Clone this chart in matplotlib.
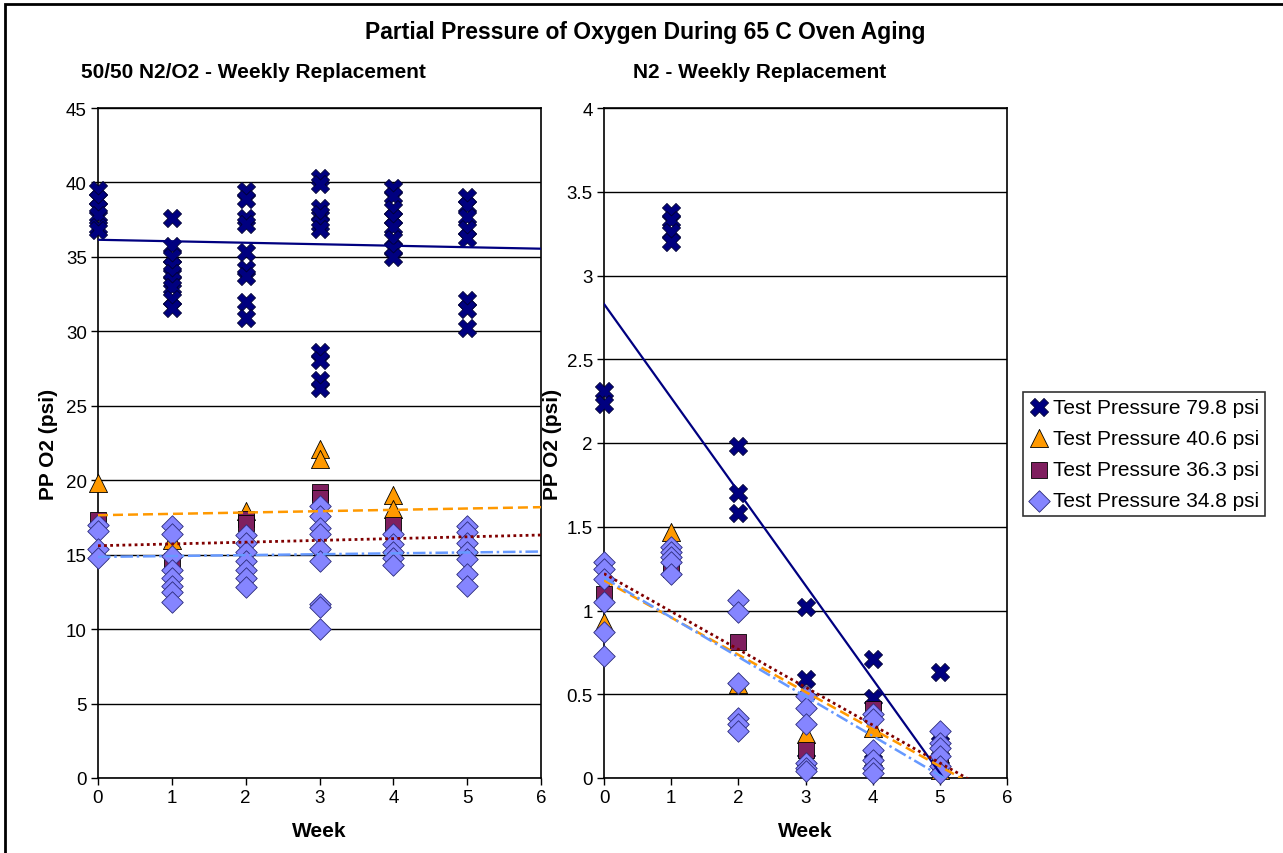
import matplotlib
matplotlib.use("Agg")
import matplotlib.pyplot as plt
from matplotlib.patches import Rectangle
import numpy as np

plt.rcParams['font.family'] = ['Liberation Sans', 'DejaVu Sans']

weeks = [0, 1, 2, 3, 4, 5]
series_labels = ["Test Pressure 79.8 psi", "Test Pressure 40.6 psi",
                 "Test Pressure 36.3 psi", "Test Pressure 34.8 psi"]

# Left panel: 50/50 N2/O2 - values per week (weeks 0..5)
left_798 = [[39.5, 38.9, 38.3, 37.8, 37.0, 36.8],
            [37.6, 35.7, 35.0, 34.4, 33.9, 33.4, 33.0, 32.2, 31.6],
            [39.4, 38.9, 37.6, 37.2, 35.3, 34.2, 33.7, 32.0, 30.9],
            [40.3, 39.9, 38.3, 37.9, 37.2, 36.9, 28.6, 28.1, 26.7, 26.2],
            [39.6, 39.1, 38.2, 37.6, 37.0, 36.2, 35.5, 35.0],
            [39.0, 38.4, 37.7, 36.9, 36.3, 32.1, 31.5, 30.2]]
left_406 = [[19.8], [16.0], [17.9], [22.1, 21.4], [19.0, 18.1], []]
left_363 = [[17.3], [14.6], [17.4, 17.1], [19.2, 18.8], [17.0], []]
left_348 = [[17.0, 16.6, 15.4, 14.8],
            [16.9, 16.4, 14.9, 14.0, 13.4, 12.9, 12.5, 11.8],
            [16.3, 15.8, 15.2, 14.6, 14.0, 13.4, 12.8],
            [18.3, 17.6, 16.8, 16.4, 15.4, 14.6, 11.7, 11.5, 10.0],
            [16.4, 15.7, 15.2, 14.8, 14.3],
            [16.9, 16.5, 15.8, 15.2, 14.7, 13.7, 12.9]]
# linear trendlines (intercept, slope)
left_trend_intercept = [36.15, 17.65, 15.6, 14.85]
left_trend_slope = [-0.10, 0.09, 0.12, 0.06]

# Right panel: N2
right_798 = [[2.31, 2.23], [3.38, 3.33, 3.26, 3.20], [1.98, 1.70, 1.58],
             [1.02, 0.59, 0.11], [0.71, 0.48, 0.10], [0.63, 0.21, 0.12]]
right_406 = [[0.93], [1.47], [0.56], [0.26], [0.30], [0.05]]
right_363 = [[1.10], [1.25], [0.81], [0.17], [0.41], [0.10]]
right_348 = [[1.29, 1.25, 1.19, 1.05, 0.87, 0.73],
             [1.38, 1.35, 1.32, 1.29, 1.22],
             [1.06, 0.99, 0.57, 0.36, 0.32, 0.28],
             [0.49, 0.42, 0.32, 0.09, 0.06, 0.04],
             [0.38, 0.35, 0.17, 0.11, 0.06, 0.03],
             [0.28, 0.21, 0.18, 0.13, 0.07, 0.03]]
right_trend_intercept = [2.83, 1.18, 1.22, 1.195]
right_trend_slope = [-0.56, -0.222, -0.226, -0.236]

left_yticks = [0, 5, 10, 15, 20, 25, 30, 35, 40, 45]
right_yticks = [0, 0.5, 1, 1.5, 2, 2.5, 3, 3.5, 4]
right_yticklabels = ["0", "0.5", "1", "1.5", "2", "2.5", "3", "3.5", "4"]

marker_styles = [
    dict(marker='X', facecolor='#000080', edgecolor='#000033', s=170, linewidths=0.6),
    dict(marker='^', facecolor='#FF9900', edgecolor='#000000', s=170, linewidths=0.6),
    dict(marker='s', facecolor='#7F1F5F', edgecolor='#000000', s=130, linewidths=0.6),
    dict(marker='D', facecolor='#8585FF', edgecolor='#2A2A7A', s=120, linewidths=0.6),
]
trend_styles = [
    dict(color='#000080', linestyle='-', linewidth=1.6),
    dict(color='#FF9900', linestyle=(0, (4, 2)), linewidth=1.8),
    dict(color='#800000', linestyle=(0, (1, 1.2)), linewidth=2.0),
    dict(color='#6699FF', linestyle=(0, (5, 1.5, 1, 1.5)), linewidth=1.8),
]

W, H = 1283, 854
fig = plt.figure(figsize=(W / 100, H / 100), dpi=100)
fig.patch.set_facecolor('white')

# outer frame
fig.add_artist(Rectangle((5 / W, -0.05), 1.1, 1 - 5 / H + 0.05, transform=fig.transFigure,
                         fill=False, edgecolor='black', linewidth=2))

axL = fig.add_axes([98 / W, 1 - 779 / H, 443 / W, 670 / H])
axR = fig.add_axes([604 / W, 1 - 779 / H, 403 / W, 670 / H])


def draw_panel(ax, data, intercepts, slopes, ylim, yticks, yticklabels, ylabelpad):
    for i, ser in enumerate(data):
        xs, ys = [], []
        for wk, vals in zip(weeks, ser):
            xs += [wk] * len(vals)
            ys += vals
        ax.scatter(xs, ys, zorder=3 + i, clip_on=False, label=series_labels[i],
                   **marker_styles[i])
    xline = np.array([0, 6])
    for i in range(4):
        ax.plot(xline, intercepts[i] + slopes[i] * xline, zorder=10, **trend_styles[i])
    ax.set_xlim(0, 6)
    ax.set_ylim(*ylim)
    ax.set_xticks(range(7))
    ax.set_yticks(yticks)
    ax.set_yticklabels(yticklabels)
    ax.yaxis.grid(True, color='black', linewidth=1.0, zorder=0)
    ax.set_axisbelow(True)
    for sp in ax.spines.values():
        sp.set_color('black')
        sp.set_linewidth(1.2)
    ax.tick_params(axis='both', direction='out', length=5, width=1, labelsize=13.5, pad=3)
    ax.set_xlabel('Week', fontsize=15, fontweight='bold', labelpad=11)
    ax.set_ylabel('PP O2 (psi)', fontsize=15, fontweight='bold', labelpad=ylabelpad)


draw_panel(axL, [left_798, left_406, left_363, left_348],
           left_trend_intercept, left_trend_slope, (0, 45),
           left_yticks, [str(v) for v in left_yticks], 6)
draw_panel(axR, [right_798, right_406, right_363, right_348],
           right_trend_intercept, right_trend_slope, (0, 4),
           right_yticks, right_yticklabels, 3)

fig.text(645 / W, 1 - 33 / H, 'Partial Pressure of Oxygen During 65 C Oven Aging',
         ha='center', va='center', fontsize=16.5, fontweight='bold')
fig.text(81 / W, 1 - 73 / H, '50/50 N2/O2 - Weekly Replacement',
         ha='left', va='center', fontsize=15, fontweight='bold')
fig.text(633 / W, 1 - 73 / H, 'N2 - Weekly Replacement',
         ha='left', va='center', fontsize=15, fontweight='bold')

handles, labels = axR.get_legend_handles_labels()
leg = fig.legend(handles, labels, loc='center',
                 bbox_to_anchor=((1020 + 1268) / 2 / W, 1 - 455 / H),
                 fontsize=15, frameon=True, fancybox=False, edgecolor='black',
                 handletextpad=0.15, borderpad=0.3, labelspacing=0.58,
                 handlelength=1.0, scatterpoints=1)
leg.get_frame().set_linewidth(1.2)

fig.savefig('out.png', dpi=100, facecolor='white')
